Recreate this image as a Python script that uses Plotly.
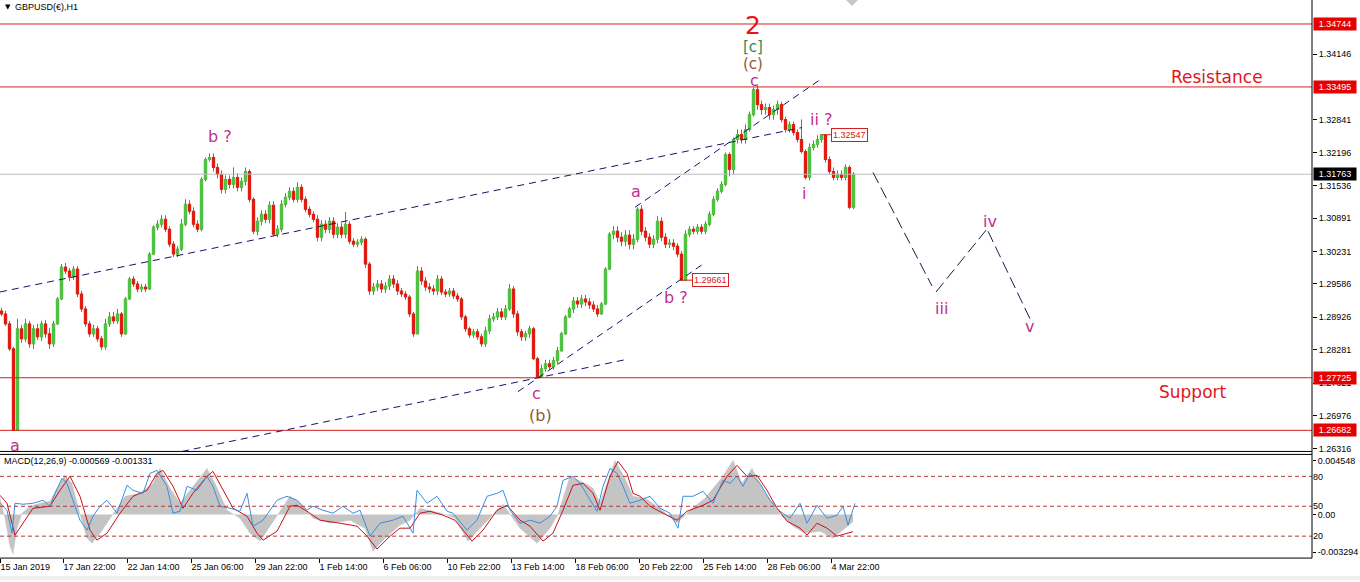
import plotly.graph_objects as go

W, H = 1360, 582
PLOT_RIGHT = 1312            # px: right edge of the chart area / start of price scale
PRICE_BOTTOM = 453           # px: bottom edge of the price pane
MACD_TOP, MACD_BOTTOM = 456, 560


def pax(px):
    """pixel column -> paper x"""
    return px / W


def pay(px):
    """pixel row -> paper y"""
    return 1 - px / H


# ---------------- GBPUSD H1 price path (sampled every 4 bars) ----------------
bar_step = 4
first_open = 1.29050
close = [
    1.28991, 1.28794, 1.28299, 1.26678, 1.28695, 1.28497, 1.28794, 1.28398, 1.28695, 1.28537,
    1.28794, 1.28596, 1.28398, 1.28794, 1.29288, 1.29921, 1.29842, 1.29723, 1.29881, 1.29387,
    1.29090, 1.28794, 1.28596, 1.28695, 1.28497, 1.28339, 1.28794, 1.28932, 1.28853, 1.28991,
    1.28596, 1.29288, 1.29684, 1.29585, 1.29486, 1.29525, 1.29486, 1.30178, 1.30712, 1.30771,
    1.30870, 1.30672, 1.30376, 1.30178, 1.30277, 1.30771, 1.31167, 1.31028, 1.30771, 1.30672,
    1.31661, 1.32056, 1.32096, 1.31898, 1.31760, 1.31463, 1.31661, 1.31562, 1.31700, 1.31503,
    1.31621, 1.31819, 1.31265, 1.30633, 1.30830, 1.30969, 1.30870, 1.31147, 1.30573, 1.30672,
    1.31167, 1.31305, 1.31424, 1.31265, 1.31503, 1.31265, 1.31068, 1.30969, 1.30870, 1.30514,
    1.30771, 1.30672, 1.30830, 1.30573, 1.30712, 1.30573, 1.30771, 1.30435, 1.30376, 1.30415,
    1.30474, 1.29980, 1.29446, 1.29525, 1.29585, 1.29486, 1.29545, 1.29684, 1.29585, 1.29446,
    1.29387, 1.29327, 1.28991, 1.28596, 1.29842, 1.29644, 1.29525, 1.29486, 1.29446, 1.29684,
    1.29426, 1.29387, 1.29446, 1.29347, 1.29288, 1.28932, 1.28695, 1.28576, 1.28636, 1.28537,
    1.28398, 1.28655, 1.28893, 1.28932, 1.29031, 1.28932, 1.29090, 1.29486, 1.28991, 1.28636,
    1.28537, 1.28596, 1.28695, 1.28102, 1.27746, 1.27904, 1.28003, 1.27944, 1.28062, 1.28260,
    1.28596, 1.28932, 1.29090, 1.29248, 1.29189, 1.29288, 1.29229, 1.29169, 1.29090, 1.28991,
    1.29189, 1.29881, 1.30573, 1.30633, 1.30514, 1.30435, 1.30554, 1.30376, 1.30474, 1.31068,
    1.30633, 1.30514, 1.30376, 1.30474, 1.30830, 1.30514, 1.30376, 1.30395, 1.30336, 1.30178,
    1.29661, 1.30573, 1.30672, 1.30633, 1.30712, 1.30633, 1.30771, 1.30969, 1.31265, 1.31424,
    1.31562, 1.32155, 1.31859, 1.32452, 1.32551, 1.32452, 1.32650, 1.32946, 1.33440, 1.33144,
    1.33045, 1.33085, 1.32946, 1.33045, 1.33144, 1.32847, 1.32650, 1.32748, 1.32590, 1.32452,
    1.32215, 1.31700, 1.32294, 1.32353, 1.32452, 1.32547, 1.32056, 1.31819, 1.31700, 1.31760,
    1.31700, 1.31898, 1.31107, 1.31763,
]
# shadow lengths above / below each body, in pips
wick_up = [
    6, 6, 6, 4, 20, 8, 10, 6, 8, 10, 6, 8, 12, 6, 4, 6, 8, 6, 6, 6,
    6, 6, 6, 8, 6, 6, 10, 10, 10, 10, 4, 4, 4, 6, 6, 6, 6, 4, 4, 8,
    8, 8, 6, 6, 6, 10, 10, 8, 8, 8, 4, 4, 8, 8, 8, 8, 8, 8, 20, 8,
    8, 8, 4, 4, 8, 8, 8, 8, 8, 8, 8, 8, 8, 8, 10, 6, 6, 6, 6, 8,
    8, 8, 8, 8, 8, 8, 24, 6, 6, 6, 6, 4, 4, 8, 8, 8, 8, 8, 8, 8,
    6, 6, 4, 4, 10, 8, 8, 8, 8, 8, 6, 6, 6, 6, 6, 4, 4, 4, 6, 6,
    6, 8, 8, 8, 8, 8, 8, 10, 6, 6, 6, 6, 6, 4, 4, 8, 8, 8, 8, 8,
    4, 4, 4, 8, 8, 8, 8, 8, 8, 8, 4, 4, 4, 10, 10, 10, 10, 10, 10, 4,
    8, 8, 8, 8, 10, 8, 8, 8, 8, 6, 6, 8, 6, 6, 6, 6, 6, 6, 6, 6,
    6, 4, 4, 4, 10, 10, 10, 6, 4, 8, 8, 8, 8, 8, 8, 6, 6, 6, 6, 6,
    40, 4, 8, 8, 8, 0, 0, 6, 8, 8, 8, 6, 4, 4,
]
wick_dn = [
    4, 4, 4, 0, 0, 8, 6, 8, 10, 6, 8, 8, 10, 6, 2, 2, 6, 8, 6, 6,
    6, 6, 6, 6, 6, 6, 6, 6, 6, 6, 6, 2, 2, 6, 6, 6, 6, 2, 2, 6,
    6, 6, 6, 6, 6, 4, 4, 6, 6, 6, 4, 4, 4, 8, 8, 8, 8, 8, 8, 8,
    8, 8, 6, 6, 8, 8, 8, 8, 4, 6, 6, 6, 6, 6, 6, 6, 6, 6, 6, 8,
    8, 8, 8, 8, 8, 8, 8, 6, 6, 6, 6, 8, 8, 8, 8, 8, 8, 8, 8, 8,
    6, 6, 6, 6, 0, 8, 8, 8, 8, 8, 6, 6, 6, 6, 6, 6, 6, 6, 6, 6,
    6, 6, 6, 6, 6, 6, 6, 4, 8, 8, 8, 8, 8, 2, 2, 0, 6, 6, 6, 6,
    2, 2, 2, 8, 8, 8, 8, 8, 6, 6, 2, 2, 2, 10, 10, 10, 10, 10, 10, 6,
    8, 8, 8, 8, 8, 8, 8, 8, 8, 6, 0, 0, 6, 6, 6, 6, 6, 4, 4, 4,
    4, 4, 14, 10, 8, 8, 8, 4, 4, 10, 10, 10, 10, 10, 10, 6, 6, 6, 6, 6,
    4, 4, 6, 6, 6, 6, 6, 6, 6, 6, 6, 6, 4, 4,
]
PIP = 0.0001
bar_x = [bar_step * i + 1.5 for i in range(len(close))]
opn = [first_open] + close[:-1]
body_hi = [max(o, c) for o, c in zip(opn, close)]
body_lo = [min(o, c) for o, c in zip(opn, close)]
high = [b + u * PIP for b, u in zip(body_hi, wick_up)]
low = [b - d * PIP for b, d in zip(body_lo, wick_dn)]

bid_price = 1.31763
level_prices = [1.34744, 1.33495, 1.27725, 1.26682]
price_ticks = [1.34146, 1.32841, 1.32196, 1.31536, 1.30891, 1.30231,
               1.29586, 1.28926, 1.28281, 1.27621, 1.26976, 1.26316]

# ---------------- MACD(12,26,9) and oscillator ----------------
macd_x = [0, 5, 10, 13, 17, 22, 30, 40, 50, 57, 65, 72, 80, 87, 92, 100, 113, 125, 140, 153,
          160, 170, 180, 195, 207, 215, 227, 240, 250, 260, 272, 290, 300, 313, 330, 350, 365, 373, 385, 400,
          410, 420, 433, 445, 455, 468, 480, 503, 520, 537, 550, 558, 570, 585, 593, 600, 615, 625, 633, 645,
          660, 677, 690, 705, 723, 733, 742, 752, 765, 773, 780, 793, 805, 820, 833, 845, 853]
macd_main = [0.001245, -0.000292, -0.002445, -0.003060, -0.001061, 0.000092, 0.000630, 0.000861, 0.001015, 0.002014,
             0.003014, 0.002399, 0.000015, -0.001830, -0.002214, -0.001445, 0.000015, 0.001399, 0.001630, 0.002399,
             0.003552, 0.002014, 0.000861, 0.002399, 0.003552, 0.002399, 0.000323, -0.000292, -0.001445, -0.002060,
             -0.000677, 0.001399, 0.000861, -0.000292, -0.000677, -0.000446, -0.001061, -0.002829, -0.001830, -0.000830,
             -0.000446, 0.000477, 0.000246, 0.000015, -0.000292, -0.002060, -0.001061, 0.000784, -0.001061, -0.002214,
             -0.001061, 0.000015, 0.002937, 0.002399, 0.002014, 0.000861, 0.004167, 0.002783, 0.001399, 0.001245,
             0.000477, -0.000677, 0.000323, 0.001245, 0.002937, 0.004167, 0.002399, 0.003552, 0.001630, 0.000861,
             0.000015, -0.000907, -0.001445, -0.001292, -0.001830, -0.001061, -0.000569]

sig_x = [0, 7, 15, 23, 33, 50, 60, 70, 80, 90, 97, 107, 120, 133, 147, 157, 163, 173, 183, 193,
         207, 213, 223, 233, 247, 257, 263, 277, 290, 297, 307, 320, 340, 357, 367, 377, 390, 400, 410, 420,
         430, 443, 455, 472, 483, 497, 507, 520, 530, 543, 553, 563, 573, 583, 593, 600, 610, 618, 627, 633,
         640, 650, 667, 677, 687, 703, 713, 727, 737, 747, 757, 767, 777, 787, 800, 807, 817, 827, 837, 847, 853]
macd_signal = [0.001476, 0.000861, -0.001599, -0.000677, 0.000477, 0.000630, 0.001860, 0.002937, 0.001399, -0.001215,
               -0.001984, -0.001445, 0.000092, 0.001399, 0.001860, 0.003168, 0.003398, 0.002168, 0.000477, 0.001630,
               0.002937, 0.003321, 0.001860, 0.000477, -0.000138, -0.001445, -0.001984, -0.001292, 0.000630, 0.000707,
               0.000246, -0.000446, -0.000677, -0.000907, -0.001676, -0.002675, -0.001676, -0.001061, -0.001061, 0.000092,
               0.000246, -0.000062, -0.000446, -0.002060, -0.001215, 0.000323, 0.000707, -0.000446, -0.000907, -0.002060,
               -0.001445, 0.000323, 0.002245, 0.002399, 0.001630, 0.000323, 0.002937, 0.004090, 0.003168, 0.001630,
               0.001399, 0.000630, -0.000062, -0.000446, 0.000246, 0.000707, 0.001092, 0.002937, 0.003783, 0.002937,
               0.003014, 0.001860, 0.000477, -0.000523, -0.001061, -0.001599, -0.000677, -0.001061, -0.001676, -0.001445,
               -0.001331]

osc_x = [0, 7, 12, 15, 23, 33, 43, 50, 55, 62, 67, 73, 80, 87, 93, 100, 107, 117, 127, 133,
         143, 150, 157, 167, 173, 180, 187, 197, 207, 213, 220, 230, 240, 247, 253, 263, 270, 277, 287, 297,
         307, 313, 323, 333, 343, 353, 360, 370, 380, 393, 403, 413, 417, 427, 437, 447, 453, 467, 477, 487,
         497, 503, 510, 520, 530, 540, 550, 557, 563, 573, 580, 590, 597, 603, 610, 617, 623, 630, 640, 650,
         660, 670, 678, 683, 693, 703, 713, 723, 730, 737, 743, 750, 760, 770, 780, 790, 800, 807, 817, 827,
         837, 843, 848, 855]
osc_val = [53, 46, 23, 53, 52, 53, 56, 50, 63, 78, 73, 56, 36, 26, 40, 50, 56, 43, 71, 66,
           63, 83, 86, 70, 43, 45, 70, 66, 80, 70, 50, 48, 45, 63, 30, 36, 46, 56, 60, 56,
           46, 50, 46, 43, 50, 43, 46, 20, 33, 36, 40, 23, 66, 53, 60, 45, 43, 26, 36, 60,
           63, 66, 46, 33, 36, 33, 40, 50, 76, 80, 73, 56, 45, 70, 88, 83, 70, 53, 56, 60,
           48, 43, 28, 60, 60, 65, 53, 76, 73, 80, 70, 83, 73, 56, 45, 38, 53, 33, 51, 38,
           41, 50, 31, 53]
osc_levels = [80, 50, 20]

# ---------------- time scale ----------------
date_pos = [0, 63, 127, 191, 255, 319, 383, 447, 511, 575, 639, 703, 767, 831]
date_labels = ["15 Jan 2019", "17 Jan 22:00", "22 Jan 14:00", "25 Jan 06:00", "29 Jan 22:00",
               "1 Feb 14:00", "6 Feb 06:00", "10 Feb 22:00", "13 Feb 14:00", "18 Feb 06:00",
               "20 Feb 22:00", "25 Feb 14:00", "28 Feb 06:00", "4 Mar 22:00"]

# ---------------- drawing objects (bar index, price) ----------------
trend_lines = [
    ((0, 1.29427), (802, 1.32689)),
    ((182, 1.26263), (625, 1.28082)),
    ((518, 1.27449), (703, 1.29980)),
    ((635, 1.31107), (820, 1.33638)),
]
projection = [
    ((873, 1.31799), (932, 1.29545)),
    ((936, 1.29426), (986, 1.30652)),
    ((988, 1.30633), (1031, 1.28853)),
]

MAG = "#c0308e"
BROWN = "#8f5a33"
GREEN = "#2e8b57"
RED = "#e3141b"
wave_labels = [
    ("a", 15, 1.26381, MAG, 16),
    ("b ?", 220, 1.32511, MAG, 16),
    ("c", 536, 1.27410, MAG, 16),
    ("(b)", 540, 1.26975, BROWN, 16),
    ("a", 636, 1.31424, MAG, 16),
    ("b ?", 676, 1.29327, MAG, 16),
    ("2", 753, 1.34706, RED, 25),
    ("[c]", 753, 1.34291, GREEN, 15),
    ("(c)", 753, 1.33950, BROWN, 15),
    ("c", 754, 1.33628, MAG, 16),
    ("ii ?", 821, 1.32847, MAG, 16),
    ("i", 804, 1.31384, MAG, 16),
    ("iii", 941, 1.29090, MAG, 16),
    ("iv", 990, 1.30830, MAG, 16),
    ("v", 1029, 1.28734, MAG, 16),
    ("Resistance", 1217, 1.33698, RED, 17),
    ("Support", 1193, 1.27449, RED, 17),
]
price_tags = [(680, 692, 1.29661), (822, 831, 1.32547)]

SMALL = dict(family="Liberation Sans, Arial, sans-serif", size=9, color="black")
LABEL_FONT = "DejaVu Sans, Verdana, sans-serif"
SHADOW = "#9c6a2a"

fig = go.Figure()

# full range bars: shadows drawn in the chart-line colour
fig.add_trace(go.Candlestick(
    x=bar_x, open=opn, high=high, low=low, close=close,
    increasing=dict(line=dict(color=SHADOW, width=1), fillcolor=SHADOW),
    decreasing=dict(line=dict(color=SHADOW, width=1), fillcolor=SHADOW),
    whiskerwidth=0, xaxis="x", yaxis="y", hoverinfo="skip", showlegend=False,
))
# bodies on top in bull / bear colours
fig.add_trace(go.Candlestick(
    x=bar_x, open=opn, high=body_hi, low=body_lo, close=close,
    increasing=dict(line=dict(color="#4cc444", width=1), fillcolor="#4cc444"),
    decreasing=dict(line=dict(color="#e31a12", width=1), fillcolor="#e31a12"),
    whiskerwidth=0, xaxis="x", yaxis="y", hoverinfo="skip", showlegend=False,
))

fig.add_trace(go.Scatter(
    x=macd_x, y=macd_main, mode="lines", fill="tozeroy",
    line=dict(color="#c4c4c4", width=0.5), fillcolor="#c4c4c4",
    xaxis="x2", yaxis="y2", hoverinfo="skip", showlegend=False,
))
fig.add_trace(go.Scatter(
    x=sig_x, y=macd_signal, mode="lines", line=dict(color="#c8101a", width=1),
    xaxis="x2", yaxis="y2", hoverinfo="skip", showlegend=False,
))
fig.add_trace(go.Scatter(
    x=osc_x, y=osc_val, mode="lines", line=dict(color="#3a8ee0", width=1),
    xaxis="x2", yaxis="y3", hoverinfo="skip", showlegend=False,
))

shapes = []
# horizontal levels
for p in level_prices:
    shapes.append(dict(type="line", xref="paper", yref="y", x0=0, x1=pax(PLOT_RIGHT), y0=p, y1=p,
                       line=dict(color="#d42020", width=1)))
shapes.append(dict(type="line", xref="paper", yref="y", x0=0, x1=pax(PLOT_RIGHT), y0=bid_price, y1=bid_price,
                   line=dict(color="#bdbdbd", width=1)))
# trend lines
for (xa, ya), (xb, yb) in trend_lines:
    shapes.append(dict(type="line", xref="x", yref="y", x0=xa, y0=ya, x1=xb, y1=yb,
                       line=dict(color="#14146e", width=1, dash="7px,5px")))
for (xa, ya), (xb, yb) in projection:
    shapes.append(dict(type="line", xref="x", yref="y", x0=xa, y0=ya, x1=xb, y1=yb,
                       line=dict(color="#1c1c44", width=1, dash="12px,5px")))
# price tag leaders
for xa, xb, p in price_tags:
    shapes.append(dict(type="line", xref="x", yref="y", x0=xa, x1=xb, y0=p, y1=p,
                       line=dict(color="#d42020", width=1)))
# oscillator levels
for lv in osc_levels:
    shapes.append(dict(type="line", xref="paper", yref="y3", x0=0, x1=pax(PLOT_RIGHT), y0=lv, y1=lv,
                       line=dict(color="#b03838", width=1, dash="4px,3px")))
# pane frames
for row in (PRICE_BOTTOM, MACD_TOP, MACD_BOTTOM):
    shapes.append(dict(type="line", xref="paper", yref="paper", x0=0, x1=pax(PLOT_RIGHT),
                       y0=pay(row), y1=pay(row), line=dict(color="black", width=1)))
shapes.append(dict(type="line", xref="paper", yref="paper", x0=pax(PLOT_RIGHT), x1=pax(PLOT_RIGHT),
                   y0=pay(MACD_BOTTOM), y1=1, line=dict(color="black", width=1)))
# chart shift marker
shapes.append(dict(type="path", xref="paper", yref="paper",
                   path=f"M {pax(846)},{pay(0)} L {pax(858)},{pay(0)} L {pax(852)},{pay(6)} Z",
                   fillcolor="#c8c8c8", line=dict(width=0)))
# scrollbar strip
shapes.append(dict(type="rect", xref="paper", yref="paper", x0=0, x1=1, y0=0, y1=pay(578),
                   fillcolor="#efefef", line=dict(width=0)))

annotations = []
for text, x, p, col, size in wave_labels:
    annotations.append(dict(text=text, x=x, y=p, xref="x", yref="y", showarrow=False,
                            xanchor="center", yanchor="middle",
                            font=dict(family=LABEL_FONT, size=size, color=col)))
for xa, xb, p in price_tags:
    annotations.append(dict(text=f"{p:.5f}", x=xb, y=p, xref="x", yref="y", showarrow=False,
                            xanchor="left", yanchor="middle", bgcolor="white",
                            bordercolor="#d42020", borderwidth=1, borderpad=1,
                            font=dict(family=SMALL["family"], size=9, color="#d42020")))
# axis price boxes
for p in level_prices:
    annotations.append(dict(text=f"{p:.5f}", x=pax(PLOT_RIGHT + 1), y=p, xref="paper", yref="y",
                            showarrow=False, xanchor="left", yanchor="middle", bgcolor="#e60000",
                            width=40, height=10, borderpad=1,
                            font=dict(family=SMALL["family"], size=9, color="white")))
annotations.append(dict(text=f"{bid_price:.5f}", x=pax(PLOT_RIGHT + 1), y=bid_price, xref="paper", yref="y",
                        showarrow=False, xanchor="left", yanchor="middle", bgcolor="black",
                        width=40, height=10, borderpad=1,
                        font=dict(family=SMALL["family"], size=9, color="white")))
# titles
annotations.append(dict(text="▼", x=pax(3), y=pay(7), xref="paper", yref="paper", showarrow=False,
                        xanchor="left", yanchor="middle", font=dict(family=LABEL_FONT, size=7, color="black")))
annotations.append(dict(text="GBPUSD(€),H1", x=pax(13), y=pay(7), xref="paper", yref="paper", showarrow=False,
                        xanchor="left", yanchor="middle", font=SMALL))
annotations.append(dict(text="MACD(12,26,9) -0.000569 -0.001331", x=pax(2), y=pay(463), xref="paper",
                        yref="paper", showarrow=False, xanchor="left", yanchor="middle", font=SMALL))

macd_top_val = 0.004628
macd_bot_val = -0.003367

fig.update_layout(
    width=W, height=H, autosize=False,
    margin=dict(l=0, r=0, t=0, b=0),
    paper_bgcolor="white", plot_bgcolor="white",
    showlegend=False, boxgap=0.45, boxgroupgap=0, boxmode="overlay",
    shapes=shapes, annotations=annotations,
    xaxis=dict(domain=[0, pax(PLOT_RIGHT)], range=[0, PLOT_RIGHT], anchor="y",
               showticklabels=False, showgrid=False, zeroline=False, showline=False, ticks="",
               rangeslider=dict(visible=False), fixedrange=True),
    xaxis2=dict(domain=[0, pax(PLOT_RIGHT)], range=[0, PLOT_RIGHT], anchor="y2",
                tickvals=date_pos, ticktext=date_labels, ticks="outside", ticklen=4,
                tickcolor="black", ticklabelposition="outside right", tickfont=SMALL,
                showgrid=False, zeroline=False, showline=False, fixedrange=True),
    yaxis=dict(domain=[pay(PRICE_BOTTOM), 1], range=[1.26263, 1.35220], anchor="x", side="right",
               tickvals=price_ticks, ticktext=[f"{v:.5f}" for v in price_ticks],
               ticks="outside", ticklen=4, tickcolor="black", tickfont=SMALL,
               showgrid=False, zeroline=False, showline=False, fixedrange=True),
    yaxis2=dict(domain=[pay(MACD_BOTTOM), pay(MACD_TOP)], range=[macd_bot_val, macd_top_val], anchor="x2",
                side="right", tickvals=[0.004167, 0.0, -0.002906],
                ticktext=["0.004548", "0.00", "-0.003294"], ticks="outside", ticklen=3,
                tickcolor="black", tickfont=SMALL, showgrid=False, zeroline=False, showline=False,
                fixedrange=True),
    yaxis3=dict(overlaying="y2", anchor="x2", side="right", range=[-2, 102],
                tickvals=osc_levels, ticktext=[str(v) for v in osc_levels], ticks="",
                tickfont=SMALL, showgrid=False, zeroline=False, showline=False, fixedrange=True),
)

fig.write_html("out.html")
